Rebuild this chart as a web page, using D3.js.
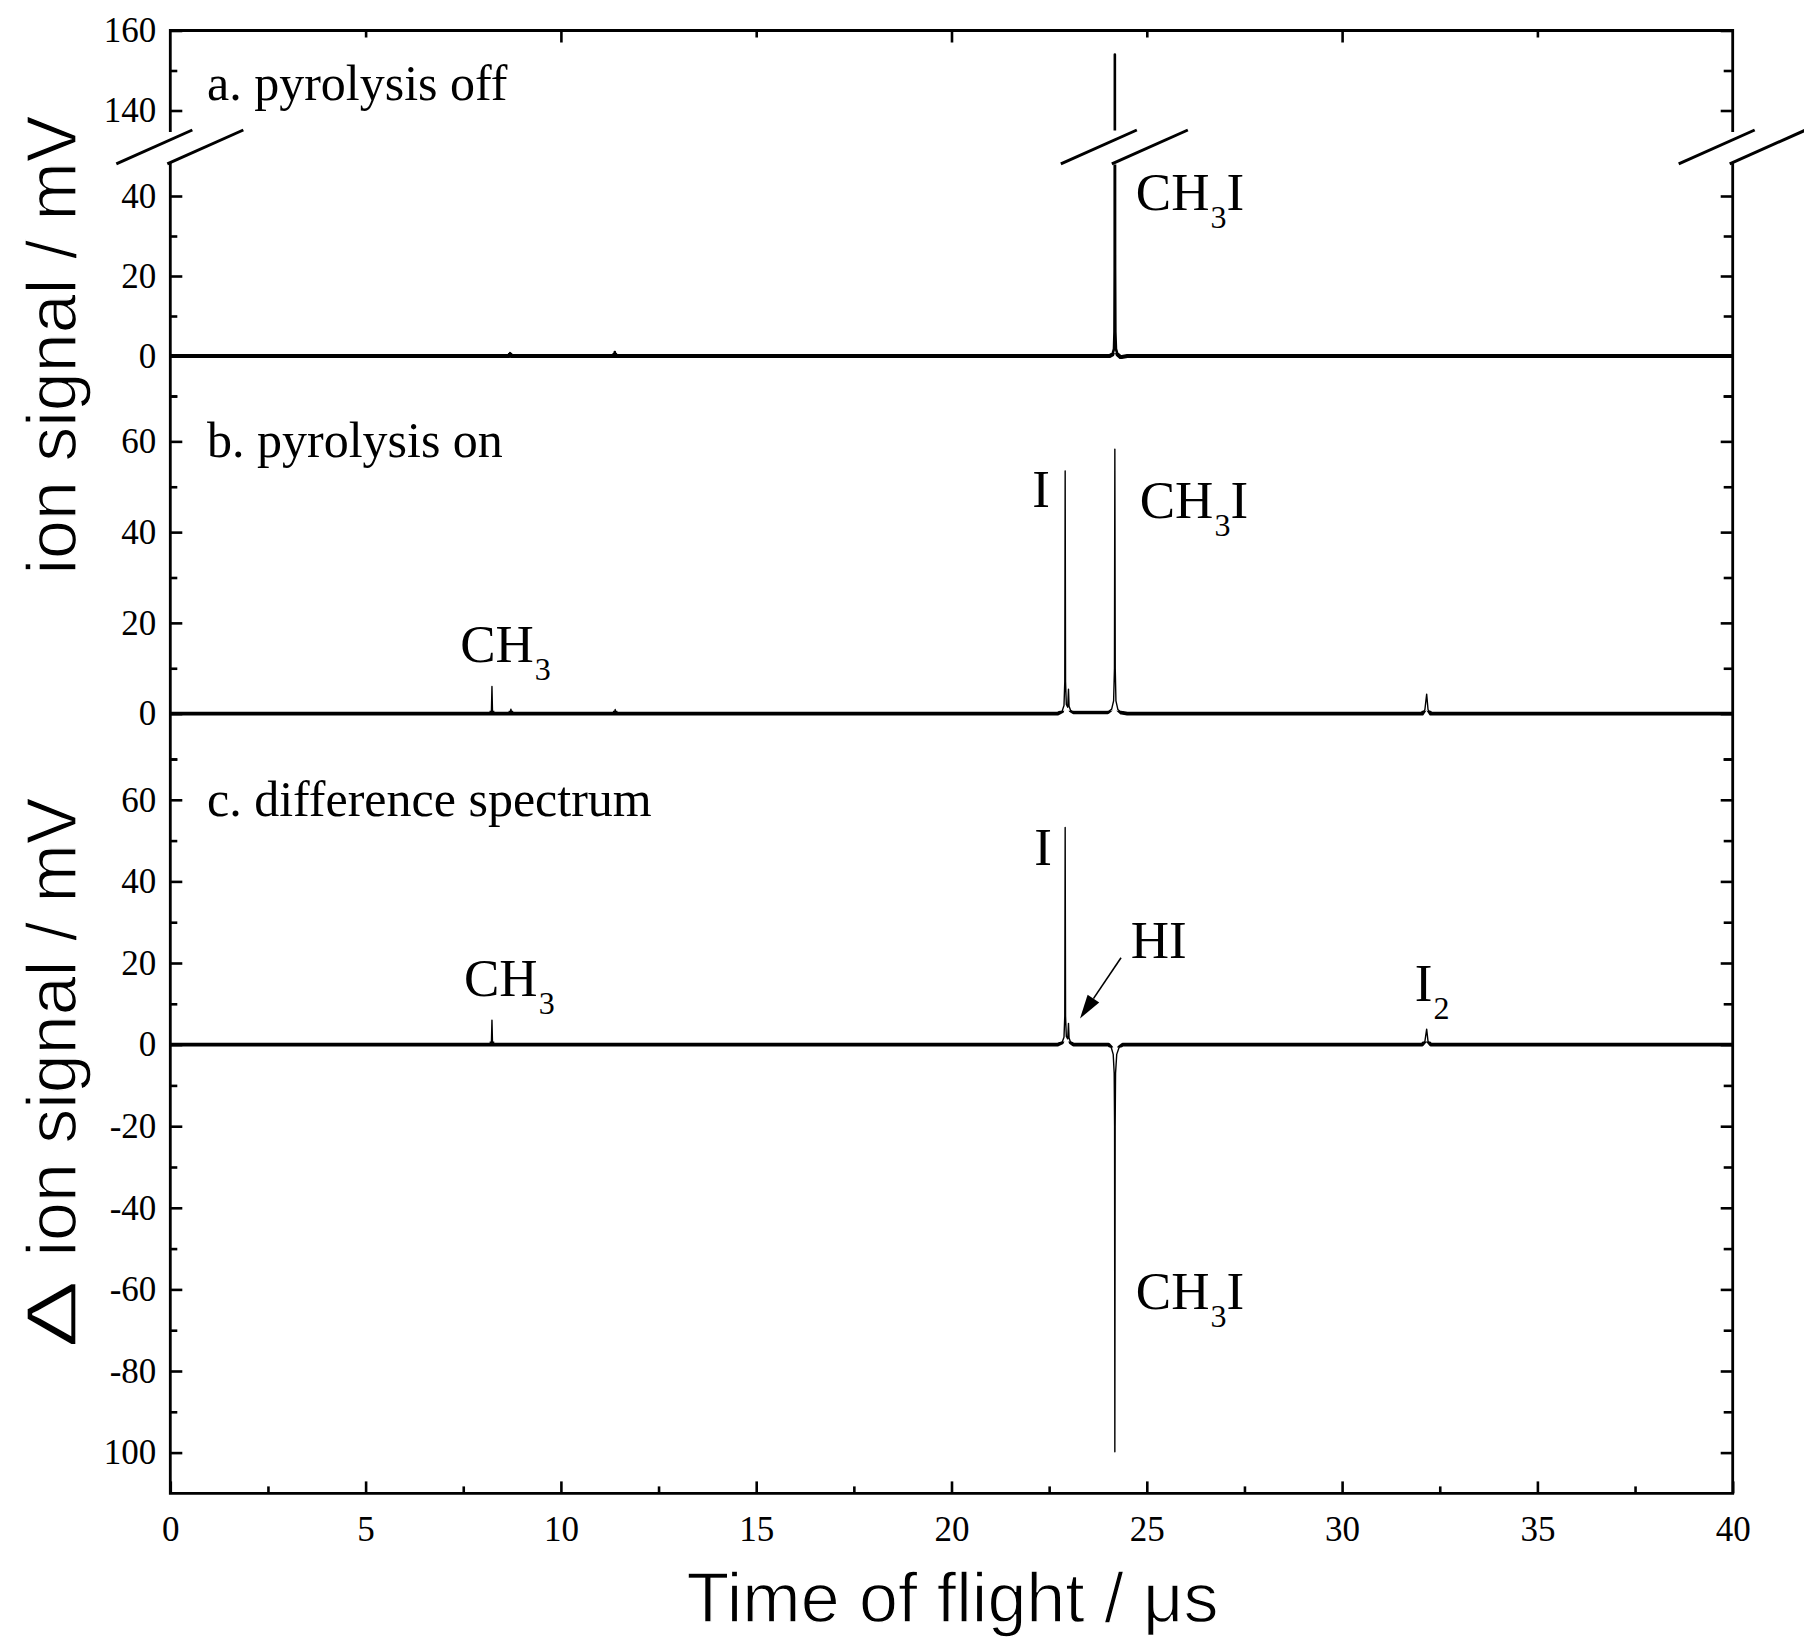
<!DOCTYPE html>
<html>
<head>
<meta charset="utf-8">
<script src="https://cdn.jsdelivr.net/npm/d3@7"></script>
<style>
  html, body { margin: 0; padding: 0; background: #ffffff; }
  svg { display: block; }
</style>
</head>
<body>
<svg id="chart" width="1804" height="1641"></svg>
<script>
// Time-of-flight mass spectra of CH3I: pyrolysis nozzle off, on, and the difference.
// Each trace is a list of [time of flight (µs), ion signal (mV)] points.
const spectrumOff = [
  [0, 0], [8.68, 0], [8.70, 0.7], [8.72, 0], [11.36, 0], [11.38, 1.0], [11.40, 0],
  [24.05, 0], [24.12, 0.4], [24.16, 1.8], [24.172, 6], [24.178, 22], [24.182, 154],
  [24.188, 22], [24.195, 6], [24.21, 1.8], [24.25, 0.4], [24.33, -0.3], [24.50, 0], [40, 0]
];

const spectrumOn = [
  [0, 0], [8.22, 0], [8.235, 6.0], [8.25, 0], [8.70, 0], [8.72, 1.0], [8.74, 0],
  [11.37, 0], [11.39, 0.9], [11.41, 0],
  [22.72, 0], [22.83, 0.5], [22.88, 1.8], [22.90, 7], [22.91, 53.5], [22.92, 7],
  [22.94, 2.0], [22.975, 1.4], [22.995, 5.4], [23.01, 1.6], [23.05, 0.7], [23.12, 0.3],
  [24.00, 0.3], [24.10, 1.0], [24.15, 2.8], [24.172, 10], [24.182, 58.3], [24.192, 10],
  [24.21, 2.8], [24.26, 0.9], [24.35, 0.2], [24.50, 0],
  [32.05, 0], [32.12, 0.9], [32.165, 4.3], [32.20, 0.9], [32.27, 0], [40, 0]
];

const spectrumDiff = [
  [0, 0], [8.22, 0], [8.235, 6.0], [8.25, 0],
  [22.72, 0], [22.83, 0.5], [22.88, 1.8], [22.90, 7], [22.91, 53.2], [22.92, 7],
  [22.94, 2.0], [22.975, 1.4], [22.995, 5.2], [23.01, 1.6], [23.05, 0.5], [23.12, 0],
  [24.02, 0], [24.09, -0.7], [24.14, -2.4], [24.165, -7], [24.175, -20], [24.182, -99.8],
  [24.19, -20], [24.20, -7], [24.23, -2.4], [24.29, -0.7], [24.38, 0],
  [32.05, 0], [32.12, 0.8], [32.165, 3.8], [32.20, 0.8], [32.27, 0], [40, 0]
];

// Axis ticks
const xMajorTicks = [0, 5, 10, 15, 20, 25, 30, 35, 40];
const xMajorLabels = ["0", "5", "10", "15", "20", "25", "30", "35", "40"];
const xMinorTicks = [2.5, 7.5, 12.5, 17.5, 22.5, 27.5, 32.5, 37.5];
const xTopMajorTicks = [10, 20, 30];
const xTopMinorTicks = [5, 15, 25, 35];

const aLowMajorTicks = [0, 20, 40];
const aLowMajorLabels = ["0", "20", "40"];
const aLowMinorTicks = [-10, 10, 30];
const aHighMajorTicks = [140, 160];
const aHighMajorLabels = ["140", "160"];
const aHighMinorTicks = [150];

const bMajorTicks = [0, 20, 40, 60];
const bMajorLabels = ["0", "20", "40", "60"];
const bMinorTicks = [-10, 10, 30, 50, 70];

const cMajorTicks = [60, 40, 20, 0, -20, -40, -60, -80, -100];
const cMajorLabels = ["60", "40", "20", "0", "-20", "-40", "-60", "-80", "100"];
const cMinorTicks = [70, 50, 30, 10, -10, -30, -50, -70, -90];

// Panel captions and peak assignments: [panel, time, signal] of the text baseline
const panelCaptions = [
  { panel: "aHigh", t: 0.94, v: 142.6, text: "a. pyrolysis off" },
  { panel: "b", t: 0.94, v: 56.6, text: "b. pyrolysis on" },
  { panel: "c", t: 0.94, v: 56.0, text: "c. difference spectrum" }
];
const peakLabels = [
  { panel: "aLow", t: 24.72, v: 36.5, main: "CH", sub: "3", tail: "I" },
  { panel: "b", t: 22.07, v: 45.5, main: "I", sub: "", tail: "" },
  { panel: "b", t: 24.82, v: 43.1, main: "CH", sub: "3", tail: "I" },
  { panel: "b", t: 7.42, v: 11.4, main: "CH", sub: "3", tail: "" },
  { panel: "c", t: 7.52, v: 11.9, main: "CH", sub: "3", tail: "" },
  { panel: "c", t: 22.12, v: 43.9, main: "I", sub: "", tail: "" },
  { panel: "c", t: 24.59, v: 21.2, main: "HI", sub: "", tail: "" },
  { panel: "c", t: 31.86, v: 10.7, main: "I", sub: "2", tail: "" },
  { panel: "c", t: 24.72, v: -64.9, main: "CH", sub: "3", tail: "I" }
];
// Arrow pointing at the HI peak in the difference spectrum: tail then tip
const hiArrow = [[24.34, 21.3], [23.29, 6.4]];

// ---------- layout ----------
const svg = d3.select("#chart");
const plotLeft = 170.3, plotRight = 1732.7, plotTop = 30.5, plotBottom = 1493.4;
const breakLow = 47.9, breakHigh = 135;

const x = d3.scaleLinear().domain([0, 40]).range([plotLeft, plotRight]);
const yAHigh = d3.scaleLinear().domain([breakHigh, 160]).range([130.5, plotTop]);
const yALow = d3.scaleLinear().domain([-10, breakLow]).range([396, 164.4]);
const yB = d3.scaleLinear().domain([-10, 70]).range([759, 396]);
const yC = d3.scaleLinear().domain([-110, 70]).range([plotBottom, 759]);
const scales = { aHigh: yAHigh, aLow: yALow, b: yB, c: yC };

svg.append("rect").attr("width", 1804).attr("height", 1641).attr("fill", "#fff");

const defs = svg.append("defs");
function clipRect(id, y0, y1) {
  defs.append("clipPath").attr("id", id).append("rect")
    .attr("x", plotLeft).attr("y", y0).attr("width", plotRight - plotLeft).attr("height", y1 - y0);
}
clipRect("clip-a-high", plotTop - 2, yAHigh(breakHigh));
clipRect("clip-a-low", yALow(breakLow), yALow(-10));
clipRect("band-a", yALow(0) - 3, yALow(0) + 3);
clipRect("band-b", yB(0) - 3, yB(0) + 3);
clipRect("band-c", yC(0) - 3, yC(0) + 3);

// ---------- traces ----------
const traces = svg.append("g");
function trace(data, yScale, width, clipId) {
  const line = d3.line().x(d => x(d[0])).y(d => yScale(d[1]));
  const p = traces.append("path").datum(data)
    .attr("d", line).attr("fill", "none").attr("stroke", "#000")
    .attr("stroke-width", width).attr("stroke-linejoin", "round");
  if (clipId) p.attr("clip-path", `url(#${clipId})`);
  return p;
}
// pyrolysis off, shown on both sides of the axis break
trace(spectrumOff, yAHigh, 2.6, "clip-a-high");
trace(spectrumOff, yALow, 2.6, "clip-a-low");
trace(spectrumOff, yALow, 4.0, "band-a");
// pyrolysis on
trace(spectrumOn, yB, 1.4, null);
trace(spectrumOn, yB, 3.8, "band-b");
// difference
trace(spectrumDiff, yC, 1.4, null);
trace(spectrumDiff, yC, 3.6, "band-c");

// ---------- axes ----------
const tickFont = "'Liberation Serif', 'Times New Roman', serif";
function styleAxis(g) {
  g.select(".domain").remove();
  g.selectAll(".tick line").attr("stroke", "#000").attr("stroke-width", 2.6);
  g.selectAll(".tick text").attr("fill", "#000").attr("font-family", tickFont).attr("font-size", 35);
}
function leftAxis(scale, majors, labels, minors) {
  svg.append("g").attr("transform", `translate(${plotLeft},0)`)
    .call(d3.axisLeft(scale).tickValues(majors).tickFormat((d, i) => labels[i]).tickSize(-12).tickPadding(14))
    .call(styleAxis);
  svg.append("g").attr("transform", `translate(${plotLeft},0)`)
    .call(d3.axisLeft(scale).tickValues(minors).tickFormat("").tickSize(-7))
    .call(styleAxis);
  svg.append("g").attr("transform", `translate(${plotRight},0)`)
    .call(d3.axisRight(scale).tickValues(majors).tickFormat("").tickSize(-12))
    .call(styleAxis);
  svg.append("g").attr("transform", `translate(${plotRight},0)`)
    .call(d3.axisRight(scale).tickValues(minors).tickFormat("").tickSize(-9))
    .call(styleAxis);
}
leftAxis(yAHigh, aHighMajorTicks, aHighMajorLabels, aHighMinorTicks);
leftAxis(yALow, aLowMajorTicks, aLowMajorLabels, aLowMinorTicks);
leftAxis(yB, bMajorTicks, bMajorLabels, bMinorTicks);
leftAxis(yC, cMajorTicks, cMajorLabels, cMinorTicks);

svg.append("g").attr("transform", `translate(0,${plotBottom})`)
  .call(d3.axisBottom(x).tickValues(xMajorTicks).tickFormat((d, i) => xMajorLabels[i]).tickSize(-12).tickPadding(23))
  .call(styleAxis);
svg.append("g").attr("transform", `translate(0,${plotBottom})`)
  .call(d3.axisBottom(x).tickValues(xMinorTicks).tickFormat("").tickSize(-7))
  .call(styleAxis);
svg.append("g").attr("transform", `translate(0,${plotTop})`)
  .call(d3.axisTop(x).tickValues(xTopMajorTicks).tickFormat("").tickSize(-12))
  .call(styleAxis);
svg.append("g").attr("transform", `translate(0,${plotTop})`)
  .call(d3.axisTop(x).tickValues(xTopMinorTicks).tickFormat("").tickSize(-7))
  .call(styleAxis);

// frame, with the vertical sides interrupted at the break of panel a
const frame = svg.append("g").attr("stroke", "#000").attr("stroke-width", 2.8)
  .attr("stroke-linecap", "square").attr("fill", "none");
frame.append("path").attr("d", d3.line()([
  [plotLeft, yAHigh(breakHigh)], [plotLeft, plotTop], [plotRight, plotTop], [plotRight, yAHigh(breakHigh)]
]));
frame.append("path").attr("d", d3.line()([
  [plotLeft, yALow(breakLow)], [plotLeft, plotBottom], [plotRight, plotBottom], [plotRight, yALow(breakLow)]
]));

// break marks: a pair of slashes on each axis and on the CH3I peak
const breakX = [x(0), x(24.182), x(40)];
const slashRise = yALow(breakLow) - yAHigh(breakHigh);
const breaks = svg.append("g").attr("stroke", "#000").attr("stroke-width", 3);
breakX.forEach(x0 => {
  [-54, -3].forEach(off => {
    breaks.append("line")
      .attr("x1", x0 + off).attr("y1", yALow(breakLow) - 0.5)
      .attr("x2", x0 + off + 76).attr("y2", yALow(breakLow) - 0.5 - slashRise);
  });
});

// ---------- text ----------
const labelFont = "'Liberation Serif', 'Times New Roman', serif";
const texts = svg.append("g").attr("font-family", labelFont).attr("fill", "#000");
panelCaptions.forEach(c => {
  texts.append("text").attr("x", x(c.t)).attr("y", scales[c.panel](c.v))
    .attr("font-size", 50).text(c.text);
});
peakLabels.forEach(l => {
  const t = texts.append("text").attr("x", x(l.t)).attr("y", scales[l.panel](l.v)).attr("font-size", 53);
  t.append("tspan").text(l.main);
  if (l.sub) {
    t.append("tspan").attr("font-size", 32).attr("dx", 1).attr("dy", 18).text(l.sub);
  }
  if (l.tail) {
    t.append("tspan").attr("dx", 0).attr("dy", -18).text(l.tail);
  }
});

// arrow to the HI peak
const [tail, tip] = hiArrow.map(p => [x(p[0]), yC(p[1])]);
const ang = Math.atan2(tip[1] - tail[1], tip[0] - tail[0]);
const headLen = 24, headHalf = 7;
const base = [tip[0] - headLen * Math.cos(ang), tip[1] - headLen * Math.sin(ang)];
svg.append("line").attr("x1", tail[0]).attr("y1", tail[1]).attr("x2", base[0]).attr("y2", base[1])
  .attr("stroke", "#000").attr("stroke-width", 1.6);
svg.append("path").attr("fill", "#000").attr("d", d3.line()([
  tip,
  [base[0] + headHalf * Math.sin(ang), base[1] - headHalf * Math.cos(ang)],
  [base[0] - headHalf * Math.sin(ang), base[1] + headHalf * Math.cos(ang)]
]) + "Z");

// axis titles
const titleFont = "'Liberation Sans', Arial, Helvetica, sans-serif";
const titles = svg.append("g").attr("font-family", titleFont).attr("font-size", 70)
  .attr("fill", "#000").attr("stroke", "#fff").attr("stroke-width", 1.3).attr("text-anchor", "middle");
titles.append("text").attr("transform", "translate(76,345) rotate(-90)").text("ion signal / mV");
// the delta sign is set wider than the rest of the lower title
titles.append("text").attr("transform", "translate(76,1314) rotate(-90) scale(1.45,1)").text("\u0394");
titles.append("text").attr("transform", "translate(76,1027) rotate(-90)").text("ion signal / mV");
titles.append("text").attr("x", (plotLeft + plotRight) / 2 + 1).attr("y", 1622).text("Time of flight / \u03bcs");
</script>
</body>
</html>
